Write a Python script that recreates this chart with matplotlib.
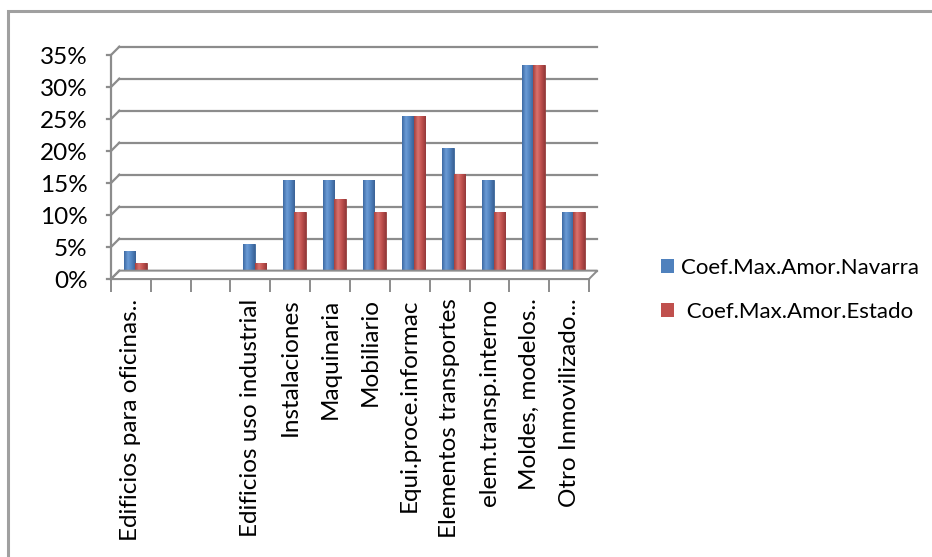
import matplotlib.pyplot as plt
import matplotlib.transforms as mtransforms
from matplotlib.patches import Rectangle, Polygon
from matplotlib.colors import LinearSegmentedColormap
import numpy as np

categories = ['Edificios para oficinas..', '', '', 'Edificios uso industrial',
              'Instalaciones', 'Maquinaria', 'Mobiliario', 'Equi.proce.informac',
              'Elementos transportes', 'elem.transp.interno', 'Moldes, modelos..',
              'Otro Inmovilizado...']
navarra = [0.04, np.nan, np.nan, 0.05, 0.15, 0.15, 0.15, 0.25, 0.20, 0.15, 0.33, 0.10]
estado = [0.02, np.nan, np.nan, 0.02, 0.10, 0.12, 0.10, 0.25, 0.16, 0.10, 0.33, 0.10]
yticks = [0, 0.05, 0.10, 0.15, 0.20, 0.25, 0.30, 0.35]
series_names = ['Coef.Max.Amor.Navarra', ' Coef.Max.Amor.Estado']

plt.rcParams['font.family'] = ['Lato', 'DejaVu Sans']

W, H = 932, 557
fig = plt.figure(figsize=(W / 100, H / 100), dpi=100)
ax = fig.add_axes([111 / W, (H - 279) / H, 478 / W, 224 / H])

n = len(categories)
x = np.arange(n)
ax.set_xlim(-0.5, n - 0.5)
ax.set_ylim(0, 0.35)

grid_col = '#8c8c8c'
back = mtransforms.offset_copy(ax.transData, fig, x=6, y=6, units='points')
mid = mtransforms.offset_copy(ax.transData, fig, x=3, y=2, units='points')
inv = fig.transFigure.inverted()

# back wall gridlines and depth connectors
for t in yticks:
    ax.plot([-0.5, n - 0.5], [t, t], color=grid_col, lw=1.6, transform=back, clip_on=False)
    a = inv.transform(ax.transData.transform((-0.5, t)))
    b = inv.transform(back.transform((-0.5, t)))
    fig.add_artist(plt.Line2D([a[0] - 4 / W, a[0], b[0]], [a[1], a[1], b[1]],
                              color=grid_col, lw=1.6))

# floor
pts = [ax.transData.transform((-0.5, 0)), ax.transData.transform((n - 0.5, 0)),
       back.transform((n - 0.5, 0)), back.transform((-0.5, 0))]
fig.add_artist(Polygon([inv.transform(p) for p in pts], closed=True,
                       facecolor='white', edgecolor=grid_col, lw=1.4, zorder=1))

w = 0.29
bars_n = ax.bar(x - w / 2, navarra, w, color='#4F81BD', edgecolor='#3a6699', lw=0.6,
                transform=mid, zorder=3, label=series_names[0])
bars_e = ax.bar(x + w / 2, estado, w, color='#C0504D', edgecolor='#94403c', lw=0.6,
                transform=mid, zorder=3, label=series_names[1])

# cylinder-like shading
grad = np.linspace(0, 1, 64).reshape(1, -1)
cmaps = [LinearSegmentedColormap.from_list('b', ['#3d6aa3', '#6b9bd6', '#4F81BD', '#3a6296']),
         LinearSegmentedColormap.from_list('r', ['#a5403d', '#d9726e', '#C0504D', '#93393a'])]
for bars, cm in zip([bars_n, bars_e], cmaps):
    for p in bars:
        if np.isnan(p.get_height()):
            continue
        x0, y0, ww, hh = p.get_x(), p.get_y(), p.get_width(), p.get_height()
        im = ax.imshow(grad, cmap=cm, aspect='auto', extent=(x0, x0 + ww, y0, y0 + hh),
                       transform=mid, zorder=3.5, interpolation='bilinear')
        im.set_clip_path(p)
ax.set_xlim(-0.5, n - 0.5)
ax.set_ylim(0, 0.35)

for s in ['top', 'right', 'bottom']:
    ax.spines[s].set_visible(False)
ax.spines['left'].set_color(grid_col)
ax.spines['left'].set_linewidth(1.6)
ax.set_facecolor('none')

ax.set_yticks(yticks)
ax.set_yticklabels(['%d%%' % round(t * 100) for t in yticks], fontsize=17.5)
ax.tick_params(axis='y', length=0, pad=17)

ax.set_xticks(x)
ax.set_xticklabels(categories, rotation=90, fontsize=17.5, va='top', ha='center')
ax.set_xticks(np.arange(-0.5, n), minor=True)
ax.tick_params(axis='x', which='major', length=0, pad=14)
ax.tick_params(axis='x', which='minor', length=9, width=1.4, color=grid_col, direction='out')
ax.plot([-0.5, n - 0.5], [0, 0], color=grid_col, lw=1.6, clip_on=False)

# legend
leg = fig.legend(handles=[bars_n, bars_e], labels=series_names,
                 loc='center left', bbox_to_anchor=(641 / W, (H - 290) / H),
                 frameon=False, fontsize=16, handlelength=0.6, handleheight=0.6,
                 handletextpad=0.3, labelspacing=1.1)
for hnd in leg.legend_handles:
    hnd.set_edgecolor('none')

# outer frame
fig.add_artist(Rectangle((8 / W, -0.1), 1.1, 1 - 11 / H + 0.1, transform=fig.transFigure,
                         fill=False, edgecolor='#a0a0a0', lw=2.2))

fig.savefig('out.png', dpi=100)
